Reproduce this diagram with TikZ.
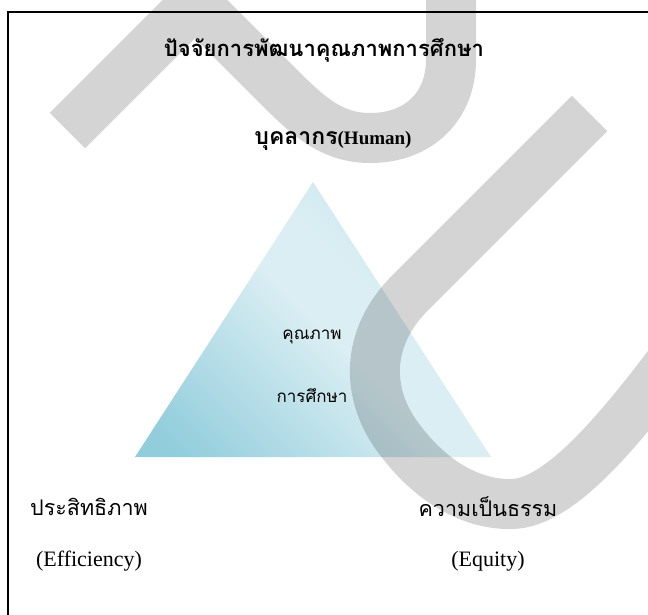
\documentclass[tikz,border=0pt]{standalone}
\usepackage{fontspec}
\setmainfont{Liberation Serif}
\newfontfamily\thaifont[Script=Thai]{Loma}
\usepackage{tikz}
\definecolor{triDark}{HTML}{92CDDC}
\definecolor{triLight}{HTML}{DAEEF3}
\definecolor{triMid}{HTML}{B9E0EA}
\pgfdeclarehorizontalshading{trishade}{100bp}{color(0bp)=(triDark); color(20bp)=(triDark); color(50bp)=(triLight); color(60bp)=(triLight); color(85bp)=(triMid); color(100bp)=(triMid)}
\tikzset{
	band/.style={
		draw = black,
		opacity = 0.17,
		line width = 50pt,
		line join = miter
	},
	thai/.style={
		font = \thaifont\fontsize{21.5}{24}\selectfont,
		inner sep = 0pt
	},
	latin/.style={
		font = \fontsize{22}{25}\selectfont,
		inner sep = 0pt
	},
}

\begin{document}
\begin{tikzpicture}[x=1pt, y=-1pt]
    \useasboundingbox (0,0) rectangle (648,614);
    \clip (0,0) rectangle (648,614);
    \fill[white] (0,0) rectangle (648,614);
    \draw[line width=1.8pt] (8,640) -- (8,12) -- (670,12);
    % triangle
    \coordinate (apex) at (313,182);
    \coordinate (bl) at (135,457);
    \coordinate (br) at (491,457);
    \shade[shading=trishade, shading angle=45] (apex) -- (br) -- (bl) -- cycle;
    % watermark
    \draw[band] (67.5,130.5) -- (195,3) -- (282,90) .. controls (312,120) and (335,138) .. (370,138) .. controls (420,138) and (451,105) .. (451,60) -- (451,-30);
    \draw[band] (589.5,113.5) -- (410,293) .. controls (365,338) and (365,395) .. (400,440) .. controls (430,480) and (470,505) .. (512,504) .. controls (560,503) and (620,430) .. (680,350);
    % texts
    \node[thai, font=\thaifont\bfseries\fontsize{22}{26}\selectfont] (title) at (324,50) {ปัจจัยการพัฒนาคุณภาพการศึกษา};
    \node[thai, font=\thaifont\bfseries\fontsize{23}{26}\selectfont] (human) at (333,141) {บุคลากร{\rmfamily\fontsize{19}{20}\selectfont(Human)}};
    \node[thai, font=\thaifont\fontsize{17}{19}\selectfont] (q1) at (312,337) {คุณภาพ};
    \node[thai, font=\thaifont\fontsize{17}{19}\selectfont] (q2) at (312,396) {การศึกษา};
    \foreach \x/\th/\en/\nm in {89/ประสิทธิภาพ/Efficiency/eff, 488/ความเป็นธรรม/Equity/equ}{
      \node[thai] (\nm th) at (\x,507) {\th};
      \node[latin] (\nm en) at (\x,561) {(\en)};
    }
  \end{tikzpicture}
\end{document}
